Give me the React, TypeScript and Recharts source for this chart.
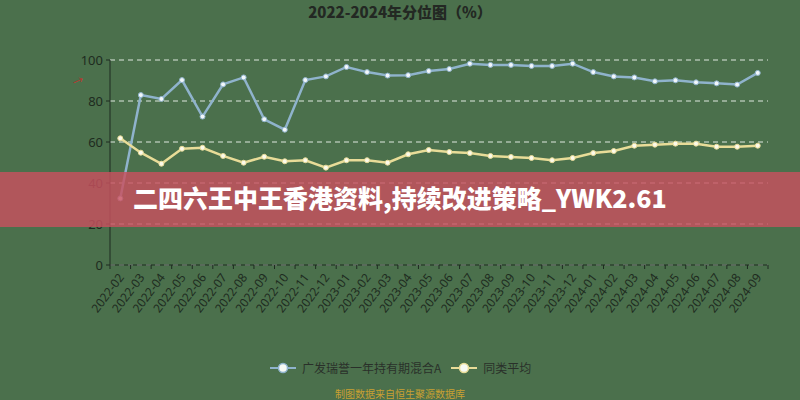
import React from "react";
import {
  LineChart,
  Line,
  XAxis,
  YAxis,
  CartesianGrid,
} from "recharts";

const months = [
  "2022-02", "2022-03", "2022-04", "2022-05", "2022-06", "2022-07", "2022-08", "2022-09",
  "2022-10", "2022-11", "2022-12", "2023-01", "2023-02", "2023-03", "2023-04", "2023-05",
  "2023-06", "2023-07", "2023-08", "2023-09", "2023-10", "2023-11", "2023-12", "2024-01",
  "2024-02", "2024-03", "2024-04", "2024-05", "2024-06", "2024-07", "2024-08", "2024-09",
];

const fundValues = [
  32.5, 82.9, 81.0, 90.2, 72.4, 88.1, 91.5, 71.1,
  66.0, 90.2, 92.0, 96.6, 94.1, 92.4, 92.6, 94.6,
  95.6, 98.2, 97.6, 97.6, 97.1, 97.1, 98.2, 94.1,
  92.0, 91.5, 89.6, 90.1, 89.1, 88.6, 88.0, 93.7,
];

const peerValues = [
  61.8, 54.8, 49.4, 56.7, 57.2, 53.2, 49.9, 52.8,
  50.6, 51.1, 47.5, 51.1, 51.1, 49.9, 54.0, 56.1,
  55.1, 54.6, 53.2, 52.7, 52.2, 51.1, 52.2, 54.6,
  55.6, 58.2, 58.7, 59.2, 59.2, 57.7, 57.7, 58.2,
];

const yTicks = [0, 20, 40, 60, 80, 100];

const fundName = "广发瑞誉一年持有期混合A";
const peerName = "同类平均";

const data = months.map((m, i) => ({
  month: m,
  fund: fundValues[i],
  peer: peerValues[i],
}));

const BG = "#4b704c";
const BLUE = "#8fb3cc";
const YELLOW = "#e8dc98";
const TEXT = "#1e2b20";

const W = 800;
const H = 400;
const M = { top: 60, right: 32, left: 70, bottom: 75 };
const Y_W = 40;
const PLOT_W = W - M.left - M.right - Y_W;
const BAND = PLOT_W / months.length;

function MonthTick(props: any) {
  const { x, y, payload, index } = props;
  const axisY = y - 8;
  const left = x - BAND / 2;
  const tx = x + 1;
  const ty = y + 2;
  return (
    <g>
      <line x1={left} y1={axisY} x2={left} y2={axisY + 4} stroke={TEXT} />
      {index === months.length - 1 && (
        <line x1={x + BAND / 2} y1={axisY} x2={x + BAND / 2} y2={axisY + 4} stroke={TEXT} />
      )}
      <text
        x={tx}
        y={ty}
        dy="0.35em"
        textAnchor="end"
        fontSize={12}
        fill={TEXT}
        fontFamily="'Noto Sans', sans-serif"
        transform={`rotate(-53 ${tx} ${ty})`}
      >
        {payload.value}
      </text>
    </g>
  );
}

function LegendItem({ color, label }: { color: string; label: string }) {
  return (
    <div style={{ display: "flex", alignItems: "center", marginRight: 10 }}>
      <svg width={26} height={12} style={{ marginRight: 6 }}>
        <line x1={0} y1={6} x2={26} y2={6} stroke={color} strokeWidth={2} />
        <circle cx={13} cy={6} r={4.5} fill="#f7f9f4" stroke={color} strokeWidth={1.5} />
      </svg>
      <span>{label}</span>
    </div>
  );
}

export default function App() {
  return (
    <div
      style={{
        position: "absolute",
        left: 0,
        top: 0,
        width: W,
        height: H,
        background: BG,
        overflow: "hidden",
        fontFamily: "'Noto Sans CJK SC', 'Noto Sans', sans-serif",
      }}
    >
      <div
        style={{
          position: "absolute",
          top: 1,
          width: W,
          textAlign: "center",
          fontSize: 15,
          fontWeight: 900,
          color: "#232823",
        }}
      >
        2022-2024年分位图（%）
      </div>
      <div style={{ position: "absolute", left: 73, top: 72, color: "#c0302c", fontSize: 11, transform: "rotate(20deg)" }}>
        ↗
      </div>

      <LineChart width={W} height={H} data={data} margin={M}>
        <CartesianGrid vertical={false} stroke="#dfe8df" strokeDasharray="5 4" />
        <XAxis
          dataKey="month"
          scale="band"
          interval={0}
          height={60}
          tickSize={5}
          tickMargin={3}
          tickLine={false}
          stroke={TEXT}
          tick={<MonthTick />}
        />
        <YAxis
          domain={[0, 100]}
          ticks={yTicks}
          width={Y_W}
          tickSize={4}
          tickMargin={3}
          stroke={TEXT}
          tick={{ fill: TEXT, fontSize: 13, fontFamily: "'Noto Sans', sans-serif" }}
        />
        <Line
          type="linear"
          dataKey="fund"
          stroke={BLUE}
          strokeWidth={2.5}
          dot={{ r: 2.5, fill: "#f2f7fa", stroke: BLUE, strokeWidth: 1 }}
          isAnimationActive={false}
        />
        <Line
          type="linear"
          dataKey="peer"
          stroke={YELLOW}
          strokeWidth={2.5}
          dot={{ r: 2.5, fill: "#fcfaea", stroke: YELLOW, strokeWidth: 1 }}
          isAnimationActive={false}
        />
      </LineChart>

      <div
        style={{
          position: "absolute",
          left: 0,
          top: 172,
          width: W,
          height: 55,
          background: "rgba(200, 80, 95, 0.82)",
        }}
      >
        <div
          style={{
            position: "absolute",
            left: 133,
            top: 10,
            fontSize: 25,
            fontWeight: 900,
            color: "#ffffff",
            lineHeight: "30px",
            whiteSpace: "nowrap",
          }}
        >
          二四六王中王香港资料,持续改进策略_YWK2.61
        </div>
      </div>

      <div
        style={{
          position: "absolute",
          top: 359,
          left: 270,
          display: "flex",
          fontSize: 12,
          color: "#2a302a",
          lineHeight: "18px",
        }}
      >
        <LegendItem color={BLUE} label={fundName} />
        <LegendItem color={YELLOW} label={peerName} />
      </div>

      <div
        style={{
          position: "absolute",
          top: 387,
          width: W,
          textAlign: "center",
          fontSize: 10,
          color: "#c9a032",
          lineHeight: "14px",
        }}
      >
        制图数据来自恒生聚源数据库
      </div>
    </div>
  );
}
